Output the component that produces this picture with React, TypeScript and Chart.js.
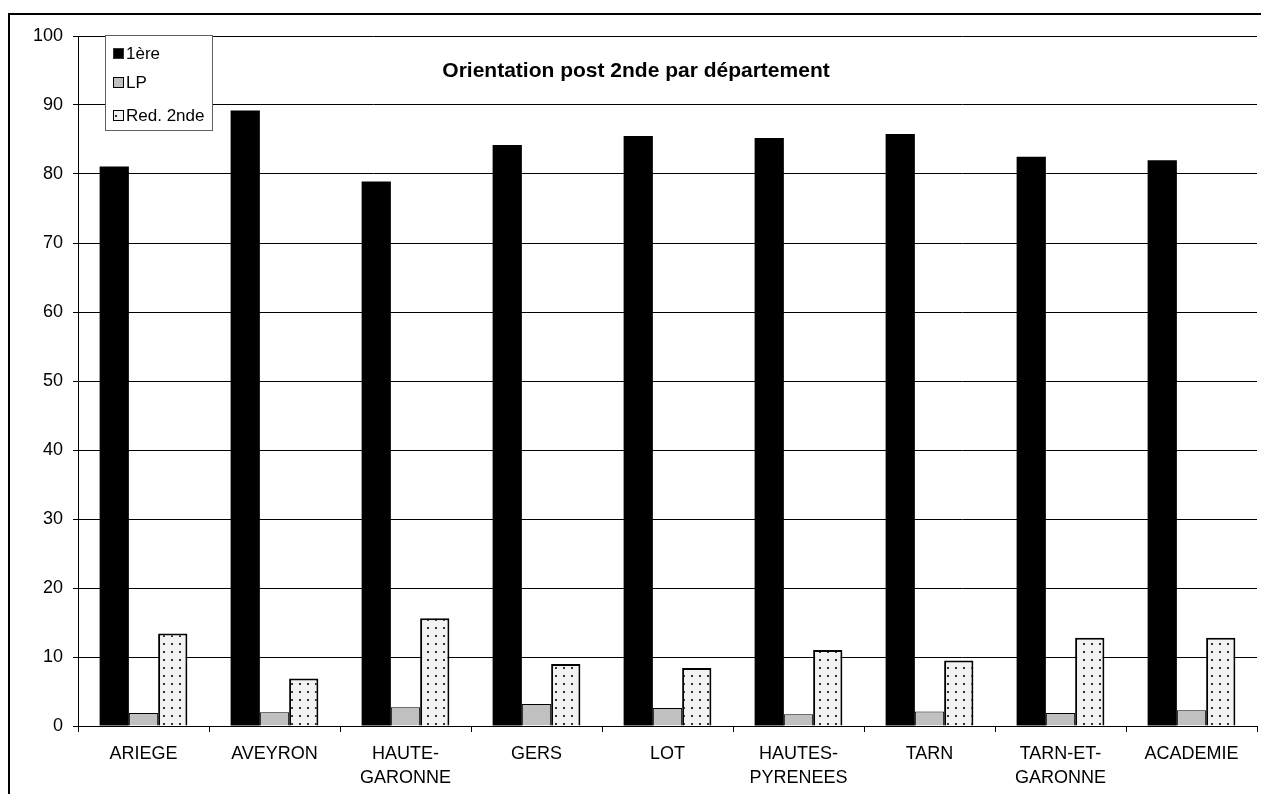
import React, { useEffect, useRef } from "react";
import { Chart, registerables } from "chart.js";

Chart.register(...registerables);

const categories: (string | string[])[] = [
  "ARIEGE",
  "AVEYRON",
  ["HAUTE-", "GARONNE"],
  "GERS",
  "LOT",
  ["HAUTES-", "PYRENEES"],
  "TARN",
  ["TARN-ET-", "GARONNE"],
  "ACADEMIE",
];
const seriesNames = ["1ère", "LP", "Red. 2nde"];
const premiere = [81.1, 89.2, 78.9, 84.2, 85.5, 85.2, 85.8, 82.5, 82.0];
const lp = [1.9, 2.0, 2.7, 3.2, 2.6, 1.7, 2.1, 1.9, 2.3];
const redoublement = [13.4, 6.9, 15.6, 9.0, 8.4, 11.0, 9.5, 12.8, 12.8];
const yMin = 0;
const yMax = 100;
const yStep = 10;
const chartTitle = "Orientation post 2nde par département";

const FONT = "'Liberation Sans', Arial, sans-serif";

function makeDotPattern(ctx: CanvasRenderingContext2D): CanvasPattern | string {
  const c = document.createElement("canvas");
  c.width = 8;
  c.height = 8;
  const p = c.getContext("2d");
  if (!p) return "#f0f0f0";
  p.fillStyle = "#f2f2f2";
  p.fillRect(0, 0, 8, 8);
  p.fillStyle = "#333333";
  p.fillRect(3, 3, 2, 2);
  const pat = ctx.createPattern(c, "repeat");
  return pat || "#f0f0f0";
}

export default function App() {
  const ref = useRef<HTMLCanvasElement | null>(null);

  useEffect(() => {
    const canvas = ref.current;
    if (!canvas) return;
    const ctx = canvas.getContext("2d");
    if (!ctx) return;
    const dots = makeDotPattern(ctx);

    const fills = ["#000000", "#c0c0c0", dots];
    const borders = ["#555555", "#000000", "#000000"];

    const titleAndLegend = {
      id: "titleAndLegend",
      afterDraw(chart: any) {
        const c = chart.ctx as CanvasRenderingContext2D;
        c.save();
        // title
        c.fillStyle = "#000";
        c.font = `bold 21px ${FONT}`;
        c.textAlign = "center";
        c.textBaseline = "alphabetic";
        c.fillText(chartTitle, 636, 77);
        // legend box
        c.fillStyle = "#fff";
        c.fillRect(105, 35, 107, 95);
        c.strokeStyle = "#606060";
        c.lineWidth = 1;
        c.strokeRect(105.5, 35.5, 107, 95);
        const rows = [53, 82, 115];
        c.font = `17px ${FONT}`;
        c.textAlign = "left";
        c.textBaseline = "middle";
        rows.forEach((cy, i) => {
          c.fillStyle = fills[i] as any;
          c.fillRect(113, cy - 5, 11, 11);
          c.strokeStyle = i === 0 ? "#333" : "#000";
          c.lineWidth = 1;
          c.strokeRect(113.5, cy - 4.5, 10, 10);
          c.fillStyle = "#000";
          c.fillText(seriesNames[i], 126, cy + 1);
        });
        c.restore();
      },
    };

    const chart = new Chart(canvas, {
      type: "bar",
      data: {
        labels: categories as any,
        datasets: [
          {
            label: seriesNames[0],
            data: premiere,
            backgroundColor: fills[0] as any,
            borderColor: borders[0],
            borderWidth: 0,
          },
          {
            label: seriesNames[1],
            data: lp,
            backgroundColor: fills[1] as any,
            borderColor: borders[1],
            borderWidth: 1,
          },
          {
            label: seriesNames[2],
            data: redoublement,
            backgroundColor: fills[2] as any,
            borderColor: borders[2],
            borderWidth: 2,
          },
        ],
      },
      options: {
        responsive: false,
        animation: false,
        devicePixelRatio: 1,
        layout: { padding: { top: 36, right: 4, left: 0, bottom: 0 } },
        datasets: {
          bar: { categoryPercentage: 0.67, barPercentage: 1.0 },
        },
        plugins: {
          legend: { display: false },
          title: { display: false },
          tooltip: { enabled: false },
        },
        scales: {
          x: {
            afterFit: (s: any) => {
              s.height = 68;
            },
            grid: {
              display: true,
              drawOnChartArea: false,
              drawTicks: true,
              tickLength: 6,
              color: "#000",
              offset: true,
            },
            border: { display: true, color: "#000", width: 1 },
            ticks: {
              color: "#000",
              font: { family: FONT, size: 18, lineHeight: 24 / 18 },
              padding: 10,
              maxRotation: 0,
              autoSkip: false,
            },
          },
          y: {
            min: yMin,
            max: yMax,
            afterFit: (s: any) => {
              s.width = 78;
            },
            grid: {
              color: "#000",
              drawTicks: true,
              tickLength: 5,
            },
            border: { display: true, color: "#000", width: 1 },
            ticks: {
              stepSize: yStep,
              color: "#000",
              font: { family: FONT, size: 18 },
              padding: 10,
            },
          },
        },
      },
      plugins: [titleAndLegend],
    });

    return () => chart.destroy();
  }, []);

  return (
    <div
      style={{
        position: "fixed",
        left: 0,
        top: 0,
        width: 1261,
        height: 794,
        overflow: "hidden",
        background: "#fff",
      }}
    >
      <canvas
        ref={ref}
        width={1261}
        height={794}
        style={{ position: "absolute", left: 0, top: 0, width: 1261, height: 794 }}
      />
      <div
        style={{
          position: "absolute",
          left: 8,
          top: 13,
          width: 1400,
          height: 1000,
          borderLeft: "2px solid #000",
          borderTop: "2px solid #000",
          pointerEvents: "none",
        }}
      />
    </div>
  );
}
